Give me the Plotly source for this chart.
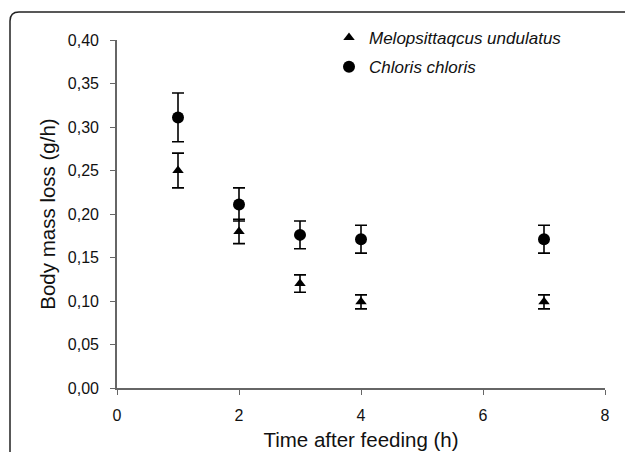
import plotly.graph_objects as go

# Data
time_h = [1, 2, 3, 4, 7]
melo_vals = [0.25, 0.180, 0.120, 0.099, 0.099]
melo_err = [0.020, 0.014, 0.010, 0.008, 0.008]
chloris_vals = [0.311, 0.211, 0.176, 0.171, 0.171]
chloris_err = [0.028, 0.019, 0.016, 0.016, 0.016]
x_ticks = [0, 2, 4, 6, 8]
y_ticks = [0, 0.05, 0.10, 0.15, 0.20, 0.25, 0.30, 0.35, 0.40]

W, H = 625, 452
ML, MR, MT, MB = 117, 20, 40, 64
PW, PH = W - ML - MR, H - MT - MB

def px(x):
    return (x - ML) / PW

def py(y):
    return (H - MB - y) / PH

fig = go.Figure()
fig.add_trace(go.Scatter(
    x=time_h, y=melo_vals, mode="markers", name="Melopsittaqcus undulatus",
    marker=dict(symbol="triangle-up", size=10, color="black"),
    error_y=dict(type="data", array=melo_err, color="black", thickness=1.6, width=6),
    legendgroup="a", cliponaxis=False,
))
fig.add_trace(go.Scatter(
    x=time_h, y=chloris_vals, mode="markers", name="Chloris chloris",
    marker=dict(symbol="circle", size=12, color="black"),
    error_y=dict(type="data", array=chloris_err, color="black", thickness=1.6, width=6),
    legendgroup="b", cliponaxis=False,
))

# rounded frame around figure (top-left corner visible)
l, t, r, b = 10, 12, 640, 470
rad = 9
path = (f"M {px(l)},{py(b)} L {px(l)},{py(t + rad)} "
        f"Q {px(l)},{py(t)} {px(l + rad)},{py(t)} L {px(r)},{py(t)}")
fig.add_shape(type="path", path=path, xref="paper", yref="paper",
              line=dict(color="#222", width=1.5))

axis_common = dict(
    showline=True, linecolor="#666", linewidth=1.6, ticks="outside",
    ticklen=5, tickwidth=1.3, tickcolor="#666", showgrid=False, zeroline=False,
    automargin=False,
    tickfont=dict(family="Liberation Sans, Arial", size=16, color="#111"),
    title_font=dict(family="Liberation Sans, Arial", size=20.5, color="#111"),
)
fig.update_xaxes(range=[0, 8], tickvals=x_ticks, ticktext=[str(v) for v in x_ticks],
                 title_text="Time after feeding (h)", title_standoff=10,
                 ticklabelstandoff=7, **axis_common)
fig.update_yaxes(range=[0, 0.40], tickvals=y_ticks, tickformat=".2f",
                 title_text="Body mass loss (g/h)", title_standoff=7,
                 ticklabelstandoff=8, **axis_common)

fig.update_layout(
    width=W, height=H, margin=dict(l=ML, r=MR, t=MT, b=MB, autoexpand=False),
    paper_bgcolor="white", plot_bgcolor="white", separators=",.",
    showlegend=True,
    legend=dict(x=px(329), y=py(20), xanchor="left", yanchor="top",
                bgcolor="rgba(0,0,0,0)", tracegroupgap=4, traceorder="grouped",
                itemwidth=30,
                font=dict(family="Liberation Sans, Arial", size=17, color="#111",
                          style="italic")),
)
fig.write_html("out.html")
